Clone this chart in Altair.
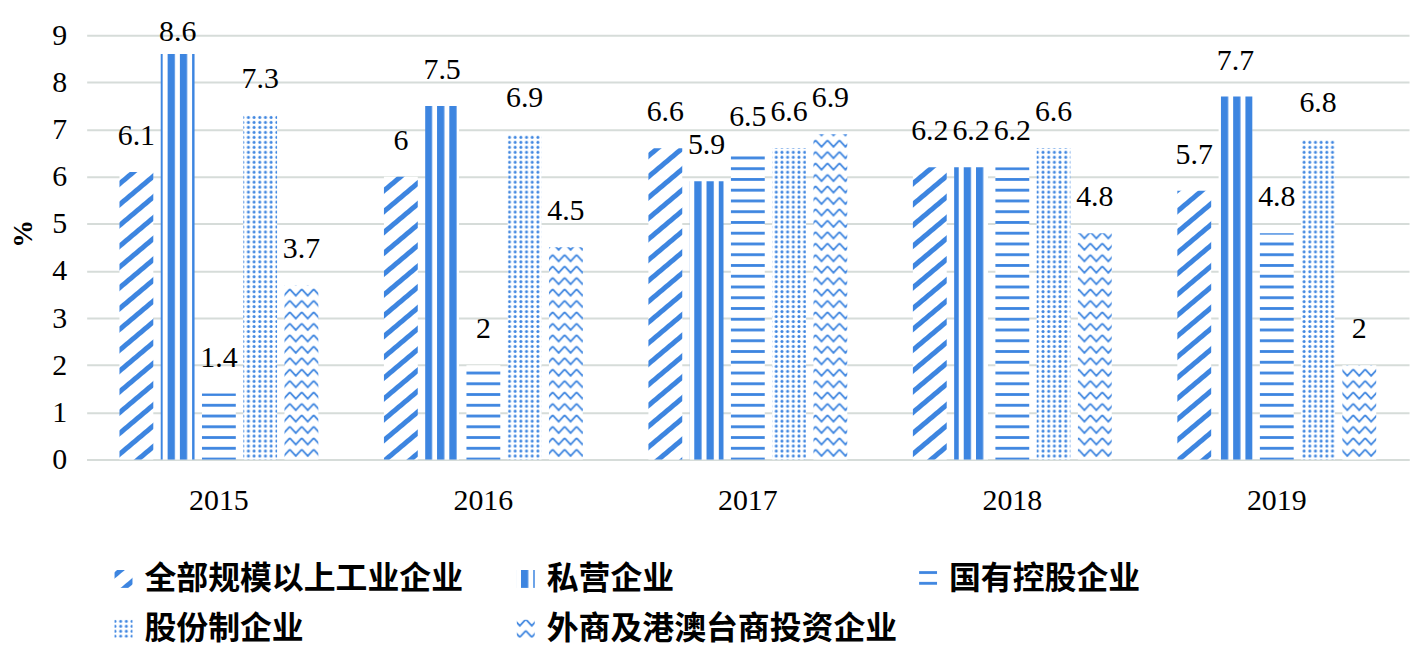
import altair as alt
import pandas as pd

# ---------------- data ----------------
years = ["2015", "2016", "2017", "2018", "2019"]
series = ["全部规模以上工业企业", "私营企业", "国有控股企业", "股份制企业", "外商及港澳台商投资企业"]
v_all = [6.1, 6, 6.6, 6.2, 5.7]
v_private = [8.6, 7.5, 5.9, 6.2, 7.7]
v_state = [1.4, 2, 6.5, 6.2, 4.8]
v_share = [7.3, 6.9, 6.6, 6.6, 6.8]
v_foreign = [3.7, 4.5, 6.9, 4.8, 2]
y_ticks = [0, 1, 2, 3, 4, 5, 6, 7, 8, 9]

# ---------------- styles ----------------
BLUE = "#3d85e0"
GRID = "#d6dcd9"
SERIF = "Liberation Serif"
CJK = "Noto Sans CJK SC"

# SVG pattern fills (fallback colour if the pattern is unavailable)
pattern_ids = ["pDiag", "pVert", "pHorz", "pDots", "pZig"]
fills = ["url(#%s) %s" % (p, BLUE) for p in pattern_ids]

DEFS = (
    '<svg width="0" height="0" aria-hidden="true" '
    'style="position:absolute;width:0;height:0;overflow:hidden"><defs>'
    '<pattern id="pDiag" patternUnits="userSpaceOnUse" width="20" height="16" patternTransform="rotate(-40)">'
    '<rect width="20" height="16" fill="#fff"/><rect y="5" width="20" height="5" fill="{b}"/></pattern>'
    '<pattern id="pVert" patternUnits="userSpaceOnUse" x="-4.8" width="12.3" height="12">'
    '<rect width="12.3" height="12" fill="#fff"/><rect width="7.3" height="12" fill="{b}"/></pattern>'
    '<pattern id="pHorz" patternUnits="userSpaceOnUse" width="12" height="10.8">'
    '<rect width="12" height="10.8" fill="#fff"/><rect y="3" width="12" height="2.8" fill="{b}"/></pattern>'
    '<pattern id="pDots" patternUnits="userSpaceOnUse" width="5.7" height="5">'
    '<rect width="5.7" height="5" fill="#fff"/><circle cx="2.85" cy="2.5" r="1.5" fill="{b}"/></pattern>'
    '<pattern id="pZig" patternUnits="userSpaceOnUse" width="12" height="11.5">'
    '<rect width="12" height="11.5" fill="#fff"/>'
    '<path d="M0,2 L6,8.5 L12,2" fill="none" stroke="{b}" stroke-width="1.8"/></pattern>'
    '</defs></svg>'
).replace("{b}", BLUE)

try:
    import altair.utils.html as _ah

    _orig_tpl = _ah.TEMPLATES["standard"]

    class _TplWithDefs:
        def render(self, *args, **kwargs):
            html = _orig_tpl.render(*args, **kwargs)
            if "<body>" in html:
                return html.replace("<body>", "<body>\n" + DEFS, 1)
            return DEFS + html

    _ah.TEMPLATES["standard"] = _TplWithDefs()
except Exception:
    pass

# ---------------- table ----------------
rows = []
for s, vals in zip(series, [v_all, v_private, v_state, v_share, v_foreign]):
    for yr, v in zip(years, vals):
        rows.append({"year": yr, "series": s, "value": v})
df = pd.DataFrame(rows)

x_enc = alt.X(
    "year:N",
    sort=years,
    scale=alt.Scale(paddingInner=0.22, paddingOuter=0.11),
    axis=alt.Axis(
        title=None, labelAngle=0, labelFont=SERIF, labelFontSize=30, labelColor="#000",
        ticks=False, domain=True, domainColor=GRID, domainWidth=2,
        labelPadding=41, labelBaseline="middle",
    ),
)
xo_enc = alt.XOffset(
    "series:N", sort=series, scale=alt.Scale(domain=series, paddingInner=0.18, paddingOuter=0.09)
)
y_enc = alt.Y(
    "value:Q",
    scale=alt.Scale(domain=[0, 9], nice=False),
    axis=alt.Axis(
        values=y_ticks, format="d", title="%", titleFont=SERIF, titleFontSize=28,
        titleFontWeight="bold", titleColor="#000", titleAngle=270, titleX=-63, titleY=199,
        titleAlign="center", titleBaseline="middle",
        labelFont=SERIF, labelFontSize=30, labelColor="#000", labelPadding=20,
        ticks=False, domain=False, grid=True, gridColor=GRID, gridWidth=2,
    ),
)

bars = alt.Chart(df).mark_bar(strokeWidth=0).encode(
    x=x_enc,
    xOffset=xo_enc,
    y=y_enc,
    color=alt.Color(
        "series:N",
        sort=series,
        scale=alt.Scale(domain=series, range=fills),
        legend=alt.Legend(
            title=None, orient="none", legendX=21, legendY=530, direction="horizontal",
            columns=3, gridAlign="all", columnPadding=14, rowPadding=18,
            symbolType="square", symbolSize=324, symbolStrokeWidth=0,
            labelFont=CJK, labelFontSize=32, labelFontWeight="bold", labelColor="#000",
            labelLimit=800, labelOffset=5, padding=0,
        ),
    ),
)

# labels near the top edge are kept inside the chart, as in the reference
labels = alt.Chart(df).transform_calculate(
    label_y="min(datum.value, 8.3)"
).mark_text(
    font=SERIF, fontSize=30, color="#000", baseline="alphabetic", align="center", dy=-27
).encode(
    x=alt.X("year:N", sort=years),
    xOffset=alt.XOffset("series:N", sort=series),
    y=alt.Y("label_y:Q"),
    text=alt.Text("value:Q"),
)

chart = (
    alt.layer(bars, labels)
    .properties(
        width=1328,
        height=426,
        autosize=alt.AutoSizeParams(type="none"),
        padding={"left": 79, "top": 26, "right": 5, "bottom": 190},
        background="#ffffff",
    )
    .configure_view(stroke=None)
)

chart.save("out.html", embed_options={"renderer": "svg", "actions": False})
